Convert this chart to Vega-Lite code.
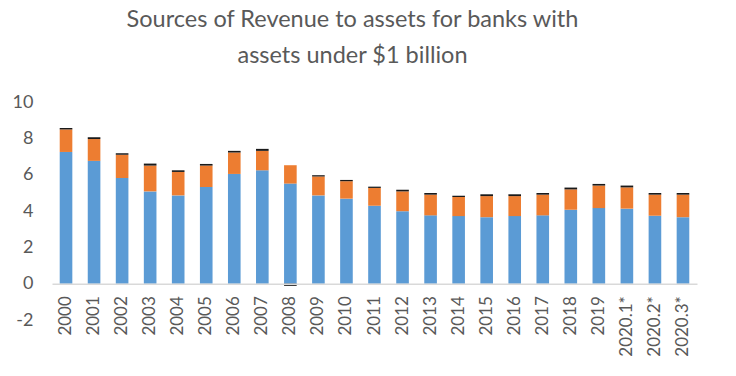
{
  "$schema": "https://vega.github.io/schema/vega-lite/v6.json",
  "width": 645,
  "height": 218,
  "autosize": "none",
  "padding": {"left": 52, "top": 102, "right": 39, "bottom": 56},
  "background": "white",
  "config": {"view": {"stroke": null}, "font": "Lato"},
  "title": {
    "text": ["Sources of Revenue to assets for banks with", "assets under $1 billion"],
    "anchor": "middle",
    "dx": -22,
    "fontSize": 23.5,
    "fontWeight": "normal",
    "color": "#595959",
    "lineHeight": 36,
    "offset": 26,
    "font": "Lato"
  },
  "data": {
    "values": [
      {"year": "2000", "series": "Net interest income", "k": 1, "value": 7.25},
      {"year": "2000", "series": "Noninterest income", "k": 2, "value": 1.24},
      {"year": "2000", "series": "Securities gains", "k": 3, "value": 0.08},
      {"year": "2001", "series": "Net interest income", "k": 1, "value": 6.76},
      {"year": "2001", "series": "Noninterest income", "k": 2, "value": 1.20},
      {"year": "2001", "series": "Securities gains", "k": 3, "value": 0.10},
      {"year": "2002", "series": "Net interest income", "k": 1, "value": 5.82},
      {"year": "2002", "series": "Noninterest income", "k": 2, "value": 1.27},
      {"year": "2002", "series": "Securities gains", "k": 3, "value": 0.09},
      {"year": "2003", "series": "Net interest income", "k": 1, "value": 5.08},
      {"year": "2003", "series": "Noninterest income", "k": 2, "value": 1.42},
      {"year": "2003", "series": "Securities gains", "k": 3, "value": 0.11},
      {"year": "2004", "series": "Net interest income", "k": 1, "value": 4.86},
      {"year": "2004", "series": "Noninterest income", "k": 2, "value": 1.29},
      {"year": "2004", "series": "Securities gains", "k": 3, "value": 0.09},
      {"year": "2005", "series": "Net interest income", "k": 1, "value": 5.32},
      {"year": "2005", "series": "Noninterest income", "k": 2, "value": 1.18},
      {"year": "2005", "series": "Securities gains", "k": 3, "value": 0.09},
      {"year": "2006", "series": "Net interest income", "k": 1, "value": 6.04},
      {"year": "2006", "series": "Noninterest income", "k": 2, "value": 1.18},
      {"year": "2006", "series": "Securities gains", "k": 3, "value": 0.09},
      {"year": "2007", "series": "Net interest income", "k": 1, "value": 6.24},
      {"year": "2007", "series": "Noninterest income", "k": 2, "value": 1.07},
      {"year": "2007", "series": "Securities gains", "k": 3, "value": 0.11},
      {"year": "2008", "series": "Net interest income", "k": 1, "value": 5.51},
      {"year": "2008", "series": "Noninterest income", "k": 2, "value": 1.01},
      {"year": "2008", "series": "Securities gains", "k": 3, "value": -0.12},
      {"year": "2009", "series": "Net interest income", "k": 1, "value": 4.86},
      {"year": "2009", "series": "Noninterest income", "k": 2, "value": 1.04},
      {"year": "2009", "series": "Securities gains", "k": 3, "value": 0.07},
      {"year": "2010", "series": "Net interest income", "k": 1, "value": 4.68},
      {"year": "2010", "series": "Noninterest income", "k": 2, "value": 0.96},
      {"year": "2010", "series": "Securities gains", "k": 3, "value": 0.07},
      {"year": "2011", "series": "Net interest income", "k": 1, "value": 4.29},
      {"year": "2011", "series": "Noninterest income", "k": 2, "value": 0.98},
      {"year": "2011", "series": "Securities gains", "k": 3, "value": 0.07},
      {"year": "2012", "series": "Net interest income", "k": 1, "value": 3.99},
      {"year": "2012", "series": "Noninterest income", "k": 2, "value": 1.09},
      {"year": "2012", "series": "Securities gains", "k": 3, "value": 0.09},
      {"year": "2013", "series": "Net interest income", "k": 1, "value": 3.76},
      {"year": "2013", "series": "Noninterest income", "k": 2, "value": 1.14},
      {"year": "2013", "series": "Securities gains", "k": 3, "value": 0.09},
      {"year": "2014", "series": "Net interest income", "k": 1, "value": 3.72},
      {"year": "2014", "series": "Noninterest income", "k": 2, "value": 1.05},
      {"year": "2014", "series": "Securities gains", "k": 3, "value": 0.07},
      {"year": "2015", "series": "Net interest income", "k": 1, "value": 3.66},
      {"year": "2015", "series": "Noninterest income", "k": 2, "value": 1.16},
      {"year": "2015", "series": "Securities gains", "k": 3, "value": 0.10},
      {"year": "2016", "series": "Net interest income", "k": 1, "value": 3.72},
      {"year": "2016", "series": "Noninterest income", "k": 2, "value": 1.10},
      {"year": "2016", "series": "Securities gains", "k": 3, "value": 0.10},
      {"year": "2017", "series": "Net interest income", "k": 1, "value": 3.76},
      {"year": "2017", "series": "Noninterest income", "k": 2, "value": 1.14},
      {"year": "2017", "series": "Securities gains", "k": 3, "value": 0.09},
      {"year": "2018", "series": "Net interest income", "k": 1, "value": 4.07},
      {"year": "2018", "series": "Noninterest income", "k": 2, "value": 1.12},
      {"year": "2018", "series": "Securities gains", "k": 3, "value": 0.10},
      {"year": "2019", "series": "Net interest income", "k": 1, "value": 4.16},
      {"year": "2019", "series": "Noninterest income", "k": 2, "value": 1.24},
      {"year": "2019", "series": "Securities gains", "k": 3, "value": 0.09},
      {"year": "2020.1*", "series": "Net interest income", "k": 1, "value": 4.13},
      {"year": "2020.1*", "series": "Noninterest income", "k": 2, "value": 1.17},
      {"year": "2020.1*", "series": "Securities gains", "k": 3, "value": 0.10},
      {"year": "2020.2*", "series": "Net interest income", "k": 1, "value": 3.74},
      {"year": "2020.2*", "series": "Noninterest income", "k": 2, "value": 1.16},
      {"year": "2020.2*", "series": "Securities gains", "k": 3, "value": 0.09},
      {"year": "2020.3*", "series": "Net interest income", "k": 1, "value": 3.66},
      {"year": "2020.3*", "series": "Noninterest income", "k": 2, "value": 1.24},
      {"year": "2020.3*", "series": "Securities gains", "k": 3, "value": 0.09}
    ]
  },
  "mark": {"type": "bar"},
  "encoding": {
    "x": {
      "field": "year",
      "type": "nominal",
      "sort": null,
      "title": null,
      "scale": {"paddingInner": 0.55, "paddingOuter": 0.275},
      "axis": {
        "offset": -36.33,
        "labelAngle": -90,
        "labelFontSize": 17,
        "labelColor": "#595959",
        "labelPadding": 12,
        "ticks": false,
        "domainColor": "#d9d9d9",
        "domainWidth": 1.5,
        "zindex": 1
      }
    },
    "y": {
      "field": "value",
      "type": "quantitative",
      "stack": "zero",
      "title": null,
      "scale": {"domain": [-2, 10], "nice": false, "zero": false},
      "axis": {
        "values": [-2, 0, 2, 4, 6, 8, 10],
        "labelExpr": "datum.value < 0 ? '-' + abs(datum.value) : datum.label",
        "grid": false,
        "domain": false,
        "ticks": false,
        "labelFontSize": 18,
        "labelColor": "#595959",
        "labelPadding": 19
      }
    },
    "color": {
      "field": "series",
      "type": "nominal",
      "legend": null,
      "scale": {
        "domain": ["Net interest income", "Noninterest income", "Securities gains"],
        "range": ["#5b9bd5", "#ed7d31", "#1a1a1a"]
      }
    },
    "order": {"field": "k", "type": "quantitative"}
  }
}
